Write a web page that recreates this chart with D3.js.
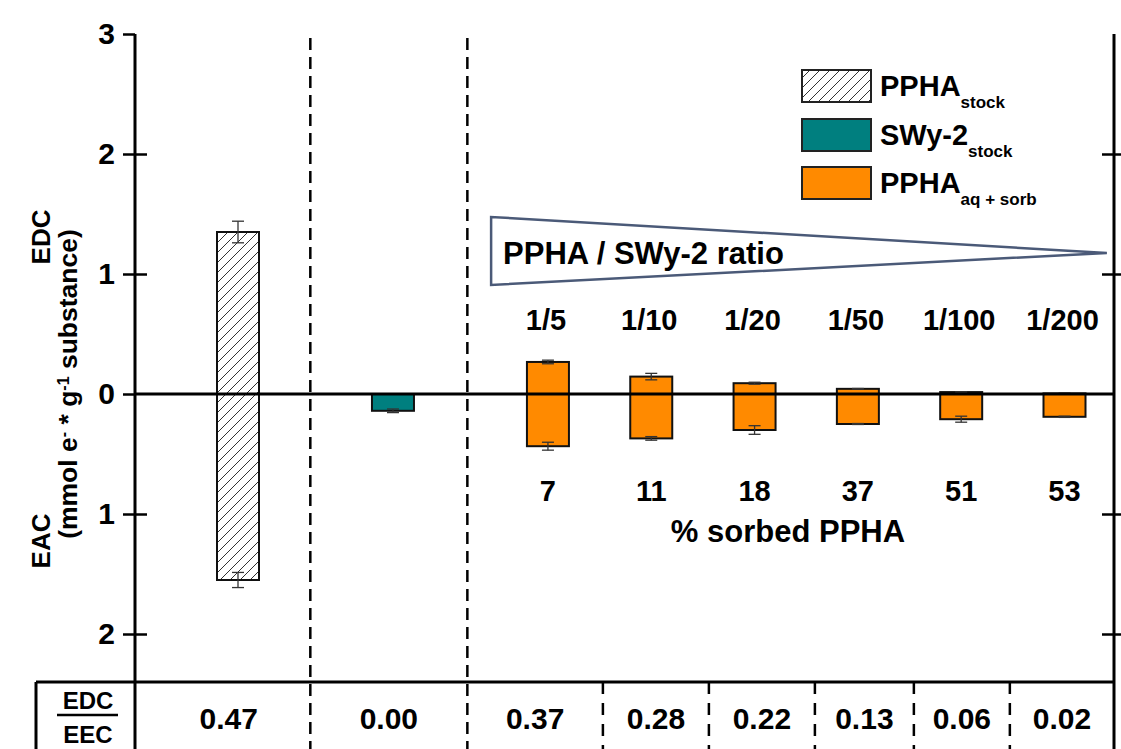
<!DOCTYPE html>
<html>
<head>
<meta charset="utf-8">
<script src="https://cdn.jsdelivr.net/npm/d3@7"></script>
<style>
  body { margin: 0; background: #ffffff; }
  svg text { font-family: "Liberation Sans", Arial, Helvetica, sans-serif; font-weight: bold; fill: #000; }
</style>
</head>
<body>
<svg id="chart" width="1121" height="749"></svg>
<script>
// ---- data ----
const groups = ["PPHA stock", "SWy-2 stock", "1/5", "1/10", "1/20", "1/50", "1/100", "1/200"];
const edcValues = [1.35, 0.0, 0.267, 0.145, 0.09, 0.043, 0.016, 0.005];
const edcErrors = [0.09, 0.0, 0.015, 0.027, 0.008, 0.003, 0.003, 0.002];
const eacValues = [1.55, 0.14, 0.435, 0.37, 0.30, 0.25, 0.21, 0.19];
const eacErrors = [0.063, 0.015, 0.033, 0.015, 0.036, 0.004, 0.025, 0.005];
const ratioLabels = ["1/5", "1/10", "1/20", "1/50", "1/100", "1/200"];
const sorbedPercent = ["7", "11", "18", "37", "51", "53"];
const edcEecRatio = ["0.47", "0.00", "0.37", "0.28", "0.22", "0.13", "0.06", "0.02"];
const yTickValues = [3, 2, 1, 0, -1, -2];
const legendNames = ["PPHA", "SWy-2", "PPHA"];
const legendSubs = ["stock", "stock", "aq + sorb"];

// ---- layout ----
const svg = d3.select("#chart");
const axisX = 135, rightX = 1114, plotTop = 34, tableTop = 682, bottom = 749;
const slots = [-3, -1.5, 0, 1, 2, 3, 4, 5];          // horizontal slot of each group
const separatorSlots = [-2.3, -0.78];                 // dashed group separators
const cellSlots = [0.532, 1.558, 2.584, 3.542, 4.471]; // table-only dividers
const barW = 42;

const x = d3.scaleLinear().domain([-3, 5]).range([238, 1064.5]);
const y = d3.scaleLinear().domain([-2, 3]).range([634, 34]);

const fills = ["url(#hatch)", "#007f7f", "#ff8a00"];
const fillOf = i => fills[Math.min(i, 2)];

// hatch pattern
const defs = svg.append("defs");
const pat = defs.append("pattern").attr("id", "hatch")
  .attr("patternUnits", "userSpaceOnUse").attr("width", 10).attr("height", 10);
pat.append("rect").attr("width", 10).attr("height", 10).attr("fill", "#fff");
pat.append("path").attr("d", "M-1,1 l2,-2 M0,10 l10,-10 M9,11 l2,-2")
  .attr("stroke", "#333").attr("stroke-width", 1);

// dashed separators (full height)
svg.append("g").selectAll("line").data(separatorSlots).join("line")
  .attr("x1", d => x(d)).attr("x2", d => x(d))
  .attr("y1", plotTop + 4).attr("y2", bottom)
  .attr("stroke", "#000").attr("stroke-width", 2.5).attr("stroke-dasharray", "12,7");

// table-only dividers
svg.append("g").selectAll("line").data(cellSlots).join("line")
  .attr("x1", d => x(d)).attr("x2", d => x(d))
  .attr("y1", tableTop).attr("y2", bottom)
  .attr("stroke", "#000").attr("stroke-width", 2.5).attr("stroke-dasharray", "12,9");

// bars
const idx = d3.range(groups.length);
svg.append("g").selectAll("rect").data(idx).join("rect")
  .attr("x", i => x(slots[i]) - barW / 2)
  .attr("width", barW)
  .attr("y", i => y(edcValues[i]))
  .attr("height", i => y(-eacValues[i]) - y(edcValues[i]))
  .attr("fill", i => fillOf(i))
  .attr("stroke", "#111").attr("stroke-width", 2);

// error bars
const errG = svg.append("g").attr("stroke", "#333").attr("stroke-width", 1.3);
function errorBar(cx, v, e) {
  if (e <= 0) return;
  const y1 = y(v - e), y2 = y(v + e);
  errG.append("line").attr("x1", cx).attr("x2", cx).attr("y1", y1).attr("y2", y2);
  errG.append("line").attr("x1", cx - 6).attr("x2", cx + 6).attr("y1", y1).attr("y2", y1);
  errG.append("line").attr("x1", cx - 6).attr("x2", cx + 6).attr("y1", y2).attr("y2", y2);
}
idx.forEach(i => {
  errorBar(x(slots[i]), edcValues[i], edcErrors[i]);
  errorBar(x(slots[i]), -eacValues[i], eacErrors[i]);
});

// zero line
svg.append("line").attr("x1", axisX).attr("x2", rightX)
  .attr("y1", y(0)).attr("y2", y(0)).attr("stroke", "#000").attr("stroke-width", 3);

// left axis: labels show magnitudes (EDC above zero, EAC below)
const fmt = d => Math.abs(d);
const leftAxis = svg.append("g").attr("transform", `translate(${axisX},0)`)
  .call(d3.axisLeft(y).tickValues(yTickValues).tickSize(12).tickPadding(8).tickFormat(fmt));
leftAxis.select(".domain").remove();
leftAxis.selectAll(".tick line").attr("stroke", "#000").attr("stroke-width", 2.5);
leftAxis.selectAll(".tick text").attr("font-size", 30).style("font-family", null);
svg.append("g").attr("transform", `translate(${axisX},0)`)
  .call(d3.axisRight(y).tickValues([2, 1, -1, -2]).tickSize(12).tickFormat(""))
  .call(g => g.select(".domain").remove())
  .selectAll(".tick line").attr("stroke", "#000").attr("stroke-width", 2.5);
svg.append("line").attr("x1", axisX).attr("x2", axisX).attr("y1", plotTop).attr("y2", bottom)
  .attr("stroke", "#000").attr("stroke-width", 3);

// right axis
svg.append("g").attr("transform", `translate(${rightX},0)`)
  .call(d3.axisLeft(y).tickValues([2, 1, -1, -2]).tickSize(12).tickFormat(""))
  .call(g => g.select(".domain").remove())
  .selectAll(".tick line").attr("stroke", "#000").attr("stroke-width", 2.5);
svg.append("g").attr("transform", `translate(${rightX},0)`)
  .call(d3.axisRight(y).tickValues([2, 1, -1, -2]).tickSize(12).tickFormat(""))
  .call(g => g.select(".domain").remove())
  .selectAll(".tick line").attr("stroke", "#000").attr("stroke-width", 2.5);
svg.append("line").attr("x1", rightX).attr("x2", rightX).attr("y1", plotTop).attr("y2", bottom)
  .attr("stroke", "#000").attr("stroke-width", 3);

// y-axis title
const title = (tx, ty, fs) => svg.append("text")
  .attr("transform", `translate(${tx},${ty}) rotate(-90)`)
  .attr("text-anchor", "middle").attr("font-size", fs);
title(50, 237, 26).text("EDC");
title(50, 541, 26).text("EAC");
const unit = title(77, 384, 26.5);
unit.append("tspan").text("(mmol e");
unit.append("tspan").attr("baseline-shift", "super").attr("font-size", 16).text("-");
unit.append("tspan").text(" * g");
unit.append("tspan").attr("baseline-shift", "super").attr("font-size", 16).text("-1");
unit.append("tspan").text(" substance)");

// legend
const leg = svg.append("g");
const legY = [70, 119, 167];
legY.forEach((ly, i) => {
  leg.append("rect").attr("x", 802).attr("y", ly).attr("width", 69).attr("height", 32)
    .attr("fill", fills[i]).attr("stroke", "#222").attr("stroke-width", 2);
  const t = leg.append("text").attr("x", 880).attr("y", ly + 26).attr("font-size", 29);
  t.append("tspan").text(legendNames[i]);
  t.append("tspan").attr("dy", 12).attr("font-size", 17).text(legendSubs[i]);
});

// ratio wedge
const wedge = [[x(-0.55), 217], [x(-0.55), 285], [x(5.41), 253]];
svg.append("path").attr("d", d3.line()(wedge) + "Z")
  .attr("fill", "#fff").attr("stroke", "#4b5a78").attr("stroke-width", 2.5);
svg.append("text").attr("x", x(-0.55) + 12).attr("y", 264).attr("font-size", 31)
  .text("PPHA / SWy-2 ratio");

// ratio and sorbed labels
svg.append("g").selectAll("text").data(ratioLabels).join("text")
  .attr("x", (d, i) => x(slots[i + 2]) - 2).attr("y", 330)
  .attr("text-anchor", "middle").attr("font-size", 29).text(d => d);
svg.append("g").selectAll("text").data(sorbedPercent).join("text")
  .attr("x", (d, i) => x(slots[i + 2])).attr("y", 501)
  .attr("text-anchor", "middle").attr("font-size", 29).text(d => d);
svg.append("text").attr("x", 788).attr("y", 542).attr("text-anchor", "middle")
  .attr("font-size", 31).text("% sorbed PPHA");

// EDC/EEC table
svg.append("line").attr("x1", 36).attr("x2", rightX).attr("y1", tableTop).attr("y2", tableTop)
  .attr("stroke", "#000").attr("stroke-width", 3);
svg.append("line").attr("x1", 36).attr("x2", 36).attr("y1", tableTop).attr("y2", bottom)
  .attr("stroke", "#000").attr("stroke-width", 3);
svg.append("text").attr("x", 88).attr("y", 709).attr("text-anchor", "middle").attr("font-size", 24).text("EDC");
svg.append("line").attr("x1", 57).attr("x2", 118).attr("y1", 715).attr("y2", 715)
  .attr("stroke", "#000").attr("stroke-width", 2.5);
svg.append("text").attr("x", 88).attr("y", 743).attr("text-anchor", "middle").attr("font-size", 24).text("EEC");

const bounds = [axisX, x(separatorSlots[0]), x(separatorSlots[1])]
  .concat(cellSlots.map(x)).concat([rightX]);
svg.append("g").selectAll("text").data(edcEecRatio).join("text")
  .attr("x", (d, i) => (bounds[i] + bounds[i + 1]) / 2 + (i === 0 ? 6 : 0))
  .attr("y", 729).attr("text-anchor", "middle").attr("font-size", 30).text(d => d);
</script>
</body>
</html>
